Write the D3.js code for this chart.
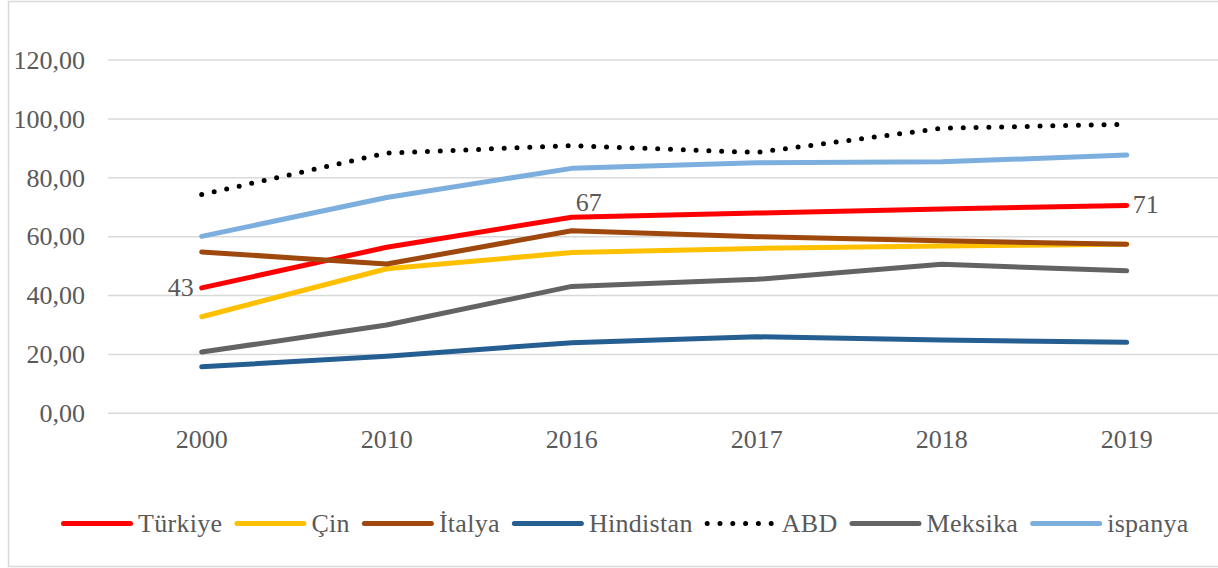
<!DOCTYPE html>
<html>
<head>
<meta charset="utf-8">
<script src="https://cdn.jsdelivr.net/npm/d3@7"></script>
<style>
  html, body { margin: 0; padding: 0; background: #fff; }
  svg { display: block; }
  svg text { font-family: "Liberation Serif", "Times New Roman", serif; fill: #595959; }
</style>
</head>
<body>
<svg id="chart" width="1218" height="568"></svg>
<script>
// ---- data ----
const years = ["2000", "2010", "2016", "2017", "2018", "2019"];
const seriesNames = ["Türkiye", "Çin", "İtalya", "Hindistan", "ABD", "Meksika", "ispanya"];
const turkiye   = [42.6, 56.4, 66.6, 68.0, 69.4, 70.6];
const cin       = [32.8, 49.1, 54.6, 56.0, 56.8, 57.4];
const italya    = [54.8, 50.7, 62.0, 60.0, 58.6, 57.4];
const hindistan = [15.8, 19.4, 24.0, 26.0, 24.9, 24.1];
const abd       = [74.3, 88.4, 90.9, 88.6, 96.8, 98.2];
const meksika   = [20.8, 30.0, 43.1, 45.5, 50.6, 48.4];
const ispanya   = [60.1, 73.3, 83.2, 85.1, 85.4, 87.7];
const yTicks = [0, 20, 40, 60, 80, 100, 120];
const labelledIdx = [0, 2, 5]; // Türkiye data labels (2000, 2016, 2019)

const seriesValues = [turkiye, cin, italya, hindistan, abd, meksika, ispanya];
const colors = ["#FF0000", "#FFC000", "#9E480E", "#255E91", "#000000", "#636363", "#7CAFDD"];
const dotted = [false, false, false, false, true, false, false];

const svg = d3.select("#chart");
const FS = 26;
const FONT = "Liberation Serif";

// chart border
svg.append("rect")
  .attr("x", 8.5).attr("y", 1.5).attr("width", 1230).attr("height", 565)
  .attr("fill", "none").attr("stroke", "#d9d9d9").attr("stroke-width", 1.5);

const x = d3.scaleBand().domain(years).range([109.2, 1219.2]);
const y = d3.scaleLinear().domain([0, 120]).range([413.3, 60]);

// gridlines
svg.append("g").selectAll("line").data(yTicks).join("line")
  .attr("x1", 108).attr("x2", 1218)
  .attr("y1", d => y(d)).attr("y2", d => y(d))
  .attr("stroke", "#d9d9d9").attr("stroke-width", 1.5);

// y axis labels
const fmt = d => d3.format(".2f")(d).replace(".", ",");
const yAxis = d3.axisLeft(y).tickValues(yTicks).tickFormat(fmt).tickSize(0).tickPadding(0);
const gy = svg.append("g").attr("transform", "translate(85,0)").call(yAxis)
  .attr("font-family", FONT).attr("font-size", FS);
gy.select(".domain").remove();
gy.selectAll("text").attr("font-size", FS).attr("font-family", FONT).attr("fill", "#595959");

// x axis labels
const xAxis = d3.axisBottom(x).tickSize(0).tickPadding(0);
const gx = svg.append("g").attr("transform", "translate(0,430)").call(xAxis)
  .attr("font-family", FONT).attr("font-size", FS);
gx.select(".domain").remove();
gx.selectAll("text").attr("font-size", FS).attr("font-family", FONT).attr("fill", "#595959").attr("dy", "0.71em");

// lines
const line = d3.line().x((d, i) => x(years[i]) + x.bandwidth() / 2).y(d => y(d));
seriesValues.forEach((vals, s) => {
  const p = svg.append("path").datum(vals)
    .attr("d", line)
    .attr("fill", "none")
    .attr("stroke", colors[s])
    .attr("stroke-width", 5)
    .attr("stroke-linejoin", "round")
    .attr("stroke-linecap", "round");
  if (dotted[s]) p.attr("stroke-dasharray", "0,12.8");
});

// data labels for Türkiye
const cx = i => x(years[i]) + x.bandwidth() / 2;
const labelPlacement = [
  { anchor: "end", dx: -8, dy: 0 },
  { anchor: "start", dx: 4, dy: -15 },
  { anchor: "start", dx: 6, dy: -1 }
];
labelledIdx.forEach((i, k) => {
  const pl = labelPlacement[k];
  svg.append("text")
    .attr("x", cx(i) + pl.dx)
    .attr("y", y(turkiye[i]) + pl.dy)
    .attr("dy", "0.33em")
    .attr("text-anchor", pl.anchor)
    .attr("font-family", FONT)
    .attr("font-size", FS)
    .text(Math.round(turkiye[i]));
});

// legend
let lx = 61;
const ly = 523.5;
seriesNames.forEach((name, s) => {
  const l = svg.append("line")
    .attr("x1", lx + 2.5).attr("x2", lx + 69.5)
    .attr("y1", ly).attr("y2", ly)
    .attr("stroke", colors[s]).attr("stroke-width", 5)
    .attr("stroke-linecap", "round");
  if (dotted[s]) l.attr("stroke-dasharray", "0,12.8");
  const t = svg.append("text")
    .attr("x", lx + 77).attr("y", ly).attr("dy", "0.33em")
    .attr("font-family", FONT)
    .attr("font-size", FS)
    .attr("letter-spacing", 0.3)
    .text(name);
  const w = t.node().getComputedTextLength();
  lx = lx + 77 + w + 12;
});
</script>
</body>
</html>
